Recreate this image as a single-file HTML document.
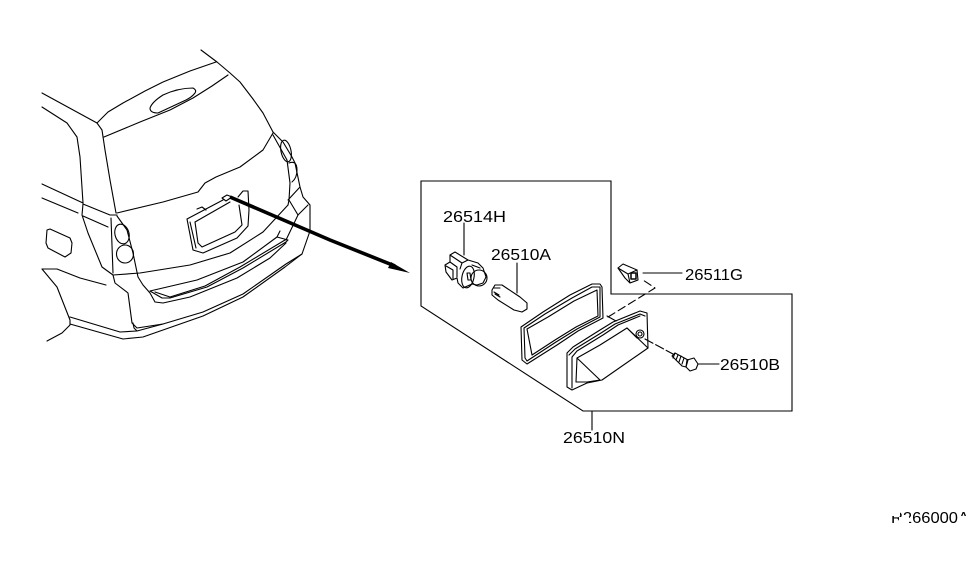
<!DOCTYPE html>
<html><head><meta charset="utf-8"><style>
html,body{margin:0;padding:0;background:#fff}
svg{display:block}
text{font-family:"Liberation Sans",sans-serif;font-size:16px;fill:#000}
.l{fill:none;stroke:#000;stroke-width:1.1;stroke-linejoin:round;stroke-linecap:round}
</style></head><body>
<svg width="975" height="566" viewBox="0 0 975 566" xmlns="http://www.w3.org/2000/svg">
<rect width="975" height="566" fill="#fff"/>
<g class="l">
<!-- car: roof and rear glass -->
<polyline points="201,50 217,62 230,73 240,82 253,99 263,113 273,132"/>
<polyline points="97,123 108,112 123,103 145,91 163,82 190,71 216,62"/>
<polyline points="104,137 140,122 170,110 193,98 212,86 228,75"/>
<path d="M150,108 Q152,102 163,95 Q178,88 193,88 Q197,90 195,93 Q192,97 186,100 L158,113 Q150,113 150,108Z"/>
<polyline points="42,93 97,123 102,130 105,150 110,180 116,213"/>
<polyline points="42,107 67,123 77,137 80,157 83,203"/>
<polyline points="42,184 83,203"/>
<polyline points="42,198 78,213"/>
<polyline points="273,133 263,150 240,167 216,177 205,183 198,192 163,202 117,213"/>
<!-- right lamp -->
<polyline points="273,132 283,142 292,157 295,163 300,187 303,197 310,205 310,231 302,254 286,264 243,294 203,312 163,324 137,331 134,328 133,323"/>
<polyline points="273,135 287,160 290,183 289,200 288,205"/>
<ellipse cx="286" cy="151" rx="5" ry="11" transform="rotate(-12 286 151)"/>
<path d="M289,163 Q297,160 297,170 Q297,178 292,182"/>
<polyline points="288,200 300,187"/>
<polyline points="289,200 298,215 308,205"/>
<polyline points="298,215 286,240"/>
<!-- left lamp -->
<polyline points="83,204 82,215 88,233 102,267 113,275 140,273 190,265 230,253 263,232 288,205"/>
<polyline points="83,204 110,215 117,215"/>
<polyline points="83,216 108,227"/>
<polyline points="111,218 113,273"/>
<polyline points="117,216 127,230 133,253 138,277 143,285 150,293 155,302 163,303 190,297 237,278 270,258 286,243"/>
<ellipse cx="122" cy="234" rx="7" ry="10" transform="rotate(-15 122 234)"/>
<ellipse cx="125" cy="254" rx="8.5" ry="9"/>
<!-- bumper -->
<polyline points="150,291 197,280 243,262 277,237 288,240 286,242 243,268 207,287 170,298 162,298 150,291"/>
<polyline points="155,292 170,297 205,286 240,267 285,240"/>
<polyline points="277,237 280,231"/>
<polyline points="113,275 115,283 128,293 132,323 137,328 163,324"/>
<polyline points="70,317 120,332 137,331"/>
<polyline points="70,324 123,339 143,337 203,316 243,297 285,267 302,254"/>
<polyline points="42,269 57,269 80,278 106,285"/>
<polyline points="42,269 57,287 70,320 70,325 62,333 47,341"/>
<path d="M47,230 L50,229 L70,238 L72,243 L71,253 L65,257 L48,248 L46,243Z"/>
<!-- plate -->
<polyline points="187,219 223,200"/>
<polyline points="187,219 193,250 203,253 237,238 248,226 249,210 248,191 243,191 238,197"/>
<polyline points="195,222 230,202"/>
<polyline points="239,205 242,225 235,232 202,247 198,243 195,222"/>
<polyline points="190,222 196,248"/>
<polyline points="197,209 202,207 206,210"/>
<polyline points="222,198 227,195 232,197 226,201 222,198"/>
</g>
<!-- arrow -->
<polyline points="230,197 330,240 395,266" fill="none" stroke="#000" stroke-width="3.6"/>
<polygon points="391,262 410,273 388,268" fill="#000"/>
<!-- callout box -->
<polygon points="421,181 611,181 611,294 792,294 792,411 583,411 421,306" fill="none" stroke="#000" stroke-width="1.1"/>
<g class="l">
<!-- leaders -->
<line x1="464" y1="223" x2="464" y2="255"/>
<line x1="517" y1="263" x2="517" y2="293"/>
<line x1="643" y1="273" x2="682" y2="273"/>
<line x1="698" y1="364" x2="719" y2="364"/>
<line x1="592" y1="411" x2="592" y2="430"/>
<!-- socket -->
<path d="M450,255 L455,252 L468,260 L478,263 L483,268 L486,277 L483,283 L477,285 L472,284 L463,288 L458,283 L457,278 L452,280 L446,272 L445,265 L450,262Z"/>
<path d="M450,255 L462,263 L468,260 M462,263 L460,269"/>
<path d="M450,262 L457,267 L457,277 M446,266 L453,270 L453,279"/>
<ellipse cx="468" cy="277" rx="6" ry="11" transform="rotate(12 468 277)"/>
<circle cx="479" cy="278" r="8"/>
<path d="M467,273 L470,273 L471,280 L468,280Z M472,265 L480,268"/>
<!-- bulb -->
<path d="M492,290 L495,285 L502,285 L520,297 L527,303 L527,309 L522,312 L514,310 L498,300 L492,295Z"/>
<path d="M494,288 L500,288 M494,292 L499,295 M495,294 L500,297"/>
<!-- gasket -->
<path d="M521,327 L543,312 L570,295 L592,284 L600,284 L602,287 L603,318 L578,331 L557,345 L527,364 L522,360Z"/>
<path d="M524,328 L545,314 L572,298 L592,287 L600,287 L600,317 L577,329 L556,342 L527,361 L525,358Z"/>
<path d="M527,329 L548,317 L574,301 L597,290 L598,316 L576,327 L555,340 L532,355Z"/>
<!-- lens -->
<path d="M567,353 L573,347 L600,330 L613,322 L640,311 L647,313 L648,348 L602,380 L587,383 L572,390 L567,387Z"/>
<path d="M569,355 L575,349 L601,333 L615,324 L640,314 L645,316"/>
<path d="M572,388 L572,357 L577,351 L603,335 L618,325 L640,316"/>
<path d="M577,358 L600,345 L627,328 L648,348"/>
<path d="M627,328 L637,338"/>
<path d="M577,358 L600,380 L587,382 L576,382Z"/>
<circle cx="640" cy="334" r="4"/>
<circle cx="640" cy="334" r="2"/>
<!-- dashed -->
<polyline points="608,317 655,288 643,280" stroke-dasharray="8 4"/>
<line x1="607" y1="316" x2="616" y2="321"/>
<line x1="645" y1="339" x2="673" y2="354" stroke-dasharray="9 3"/>
<!-- screw -->
<path d="M672,356 L675,353 L688,360 L686,367 L682,366Z"/>
<path d="M675,353 L673,358 M678,355 L676,360 M681,356 L679,362 M684,358 L682,364"/>
<path d="M687,360 L694,358 L698,364 L696,369 L690,371 L686,367Z"/>
<!-- clip -->
<path d="M618,268 L623,264 L637,270 L638,280 L630,283 L625,278Z"/>
<path d="M618,268 L628,274 L637,270 M628,274 L630,283"/>
<rect x="631" y="273" width="5" height="6" stroke-width="1.5"/>
</g>
<text x="443" y="222" textLength="63" lengthAdjust="spacingAndGlyphs">26514H</text>
<text x="491" y="260" textLength="60" lengthAdjust="spacingAndGlyphs">26510A</text>
<text x="685" y="280" textLength="58" lengthAdjust="spacingAndGlyphs">26511G</text>
<text x="720" y="370" textLength="60" lengthAdjust="spacingAndGlyphs">26510B</text>
<text x="563" y="443" textLength="62" lengthAdjust="spacingAndGlyphs">26510N</text>
<text x="891" y="523" textLength="78" lengthAdjust="spacingAndGlyphs">R266000A</text>
<rect x="888" y="505" width="87" height="6" fill="#fff"/>
<rect x="958" y="516" width="14" height="9" fill="#fff"/>
<rect x="899" y="517" width="10" height="8" fill="#fff"/>
<rect x="890" y="510" width="10" height="6" fill="#fff"/>
</svg>
</body></html>
